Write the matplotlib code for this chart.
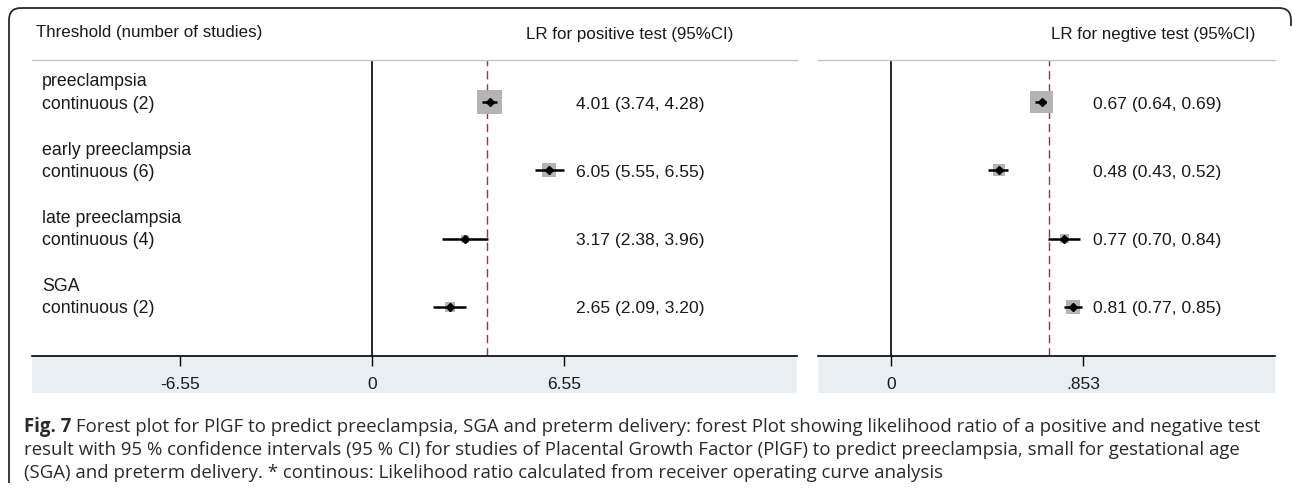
import numpy as np
import matplotlib
matplotlib.use("Agg")
import matplotlib.pyplot as plt
from matplotlib import transforms
from matplotlib.patches import Rectangle, PathPatch
from matplotlib.path import Path

# --- data ---
OUTCOMES = ["preeclampsia", "early preeclampsia", "late preeclampsia", "SGA"]
N_STUDIES = [2, 6, 4, 2]

LR_POS = [4.01, 6.05, 3.17, 2.65]
LR_POS_LO = [3.74, 5.55, 2.38, 2.09]
LR_POS_HI = [4.28, 6.55, 3.96, 3.20]
WEIGHT_POS = [61.5, 20.9, 6.8, 10.7]      # relative weight, %
POOLED_POS = 3.92

LR_NEG = [0.67, 0.48, 0.77, 0.81]
LR_NEG_LO = [0.64, 0.43, 0.70, 0.77]
LR_NEG_HI = [0.69, 0.52, 0.84, 0.85]
WEIGHT_NEG = [54.2, 16.0, 8.3, 21.5]
POOLED_NEG = 0.702

POS_TICKS = [-6.55, 0, 6.55]
POS_TICKLABELS = ["-6.55", "0", "6.55"]
NEG_TICKS = [0, 0.853]
NEG_TICKLABELS = ["0", ".853"]

CAPTION_BOLD = "Fig. 7"
CAPTION = [
    " Forest plot for PlGF to predict preeclampsia, SGA and preterm delivery: forest Plot "
    "showing likelihood ratio of a positive and negative test",
    "result with 95 % confidence intervals (95 % CI) for studies of Placental Growth Factor "
    "(PlGF) to predict preeclampsia, small for gestational age",
    "(SGA) and preterm delivery. * continous: Likelihood ratio calculated from receiver "
    "operating curve analysis",
]

# --- layout (pixels, origin top-left) ---
W, H = 1292, 494
DPI = 100
TOP, BOTTOM = 60, 356          # header rule / x axis
BAND_BOTTOM = 393
ROW0, ROW_STEP = 102, 68.3
BOX_PX = 3.1                   # px of box side per sqrt(weight %)

TEXT = "#1a1a1a"
BOX = "#b4b4b4"
BAND = "#e8eef2"
RULE = "#c4c4c4"
REF = "#8a3c48"

plt.rcParams["font.family"] = ["Liberation Sans", "DejaVu Sans"]

fig = plt.figure(figsize=(W / DPI, H / DPI), dpi=DPI)
px = transforms.Affine2D().scale(1 / W, -1 / H).translate(0, 1) + fig.transFigure


def add_panel(x0, x1, zero_px, px_per_unit):
    ax = fig.add_axes([x0 / W, (H - BOTTOM) / H, (x1 - x0) / W, (BOTTOM - TOP) / H])
    ax.set_xlim((x0 - zero_px) / px_per_unit, (x1 - zero_px) / px_per_unit)
    ax.set_ylim((BOTTOM - ROW0) / ROW_STEP, (TOP - ROW0) / ROW_STEP)
    ax.set_yticks([])
    for s in ("left", "right"):
        ax.spines[s].set_visible(False)
    ax.spines["top"].set_color(RULE)
    ax.spines["top"].set_linewidth(1.0)
    ax.spines["bottom"].set_color("black")
    ax.spines["bottom"].set_linewidth(1.2)
    ax.tick_params(axis="x", direction="out", length=7, width=1.0, pad=8,
                   labelsize=12.5, colors="black", labelcolor=TEXT)
    fig.patches.append(Rectangle((x0, BOTTOM), x1 - x0, BAND_BOTTOM - BOTTOM,
                                 transform=px, facecolor=BAND, edgecolor="none",
                                 zorder=-5))
    ax.axvline(0, color="black", lw=1.2, zorder=1)
    return ax


def draw_rows(ax, est, lo, hi, weight, pooled, text_px, zero_px, px_per_unit):
    rows = np.arange(len(est))
    ax.axvline(pooled, color=REF, lw=1.0, dashes=(6, 3.5), zorder=1)
    sizes = (BOX_PX * np.sqrt(weight) * 72 / DPI) ** 2
    ax.scatter(est, rows, s=sizes, marker="s", color=BOX, linewidths=0, zorder=2)
    ax.hlines(rows, lo, hi, color="black", lw=1.8, zorder=3)
    ax.plot(est, rows, ls="none", marker="D", ms=3.6, color="black", zorder=4)
    tx = (text_px - zero_px) / px_per_unit
    for r, e, l, h in zip(rows, est, lo, hi):
        ax.text(tx, r + 0.03, f"{e:.2f} ({l:.2f}, {h:.2f})", ha="left", va="center",
                fontsize=12.6, color=TEXT)


# LR for positive test
ax_pos = add_panel(32, 797, 372, 29.31)
draw_rows(ax_pos, LR_POS, LR_POS_LO, LR_POS_HI, WEIGHT_POS, POOLED_POS, 576, 372, 29.31)
ax_pos.set_xticks(POS_TICKS, POS_TICKLABELS)
for i, (name, n) in enumerate(zip(OUTCOMES, N_STUDIES)):
    ax_pos.text(42, ROW0 + i * ROW_STEP - 20, name, transform=px, ha="left",
                va="center", fontsize=12.8, color=TEXT)
    ax_pos.text(42, ROW0 + i * ROW_STEP + 2, f"continuous ({n})", transform=px,
                ha="left", va="center", fontsize=12.8, color=TEXT)

# LR for negative test
ax_neg = add_panel(818, 1275, 890.7, 225.4)
draw_rows(ax_neg, LR_NEG, LR_NEG_LO, LR_NEG_HI, WEIGHT_NEG, POOLED_NEG, 1093, 890.7, 225.4)
ax_neg.set_xticks(NEG_TICKS, NEG_TICKLABELS)

# column headers
fig.text(36 / W, 1 - 33 / H, "Threshold (number of studies)", ha="left", va="center",
         fontsize=12.2, color=TEXT)
fig.text(630 / W, 1 - 34 / H, "LR for positive test (95%CI)", ha="center", va="center",
         fontsize=12.2, color=TEXT)
fig.text(1153 / W, 1 - 34 / H, "LR for negtive test (95%CI)", ha="center", va="center",
         fontsize=12.2, color=TEXT)

# rounded frame: left side and top, right side cut at the corner
r = 12
verts = [(9, 483), (9, 8 + r), (9, 8), (9 + r, 8), (1291 - r, 8), (1291, 8),
         (1291, 8 + r), (1291, 8 + r + 6)]
codes = [Path.MOVETO, Path.LINETO, Path.CURVE3, Path.CURVE3, Path.LINETO,
         Path.CURVE3, Path.CURVE3, Path.LINETO]
fig.patches.append(PathPatch(Path(verts, codes), transform=px, facecolor="none",
                             edgecolor="#2b2b2b", lw=1.3))

# caption
cap_kw = dict(transform=px, ha="left", va="center", fontsize=13.4, color="#2a2a2a",
              family=["Open Sans", "DejaVu Sans"])
bold = fig.text(24, 427, CAPTION_BOLD, fontweight="bold", **cap_kw)
fig.canvas.draw()
bb = bold.get_window_extent()
fig.text(24 + bb.width, 427, CAPTION[0], **cap_kw)
fig.text(24, 450, CAPTION[1], **cap_kw)
fig.text(24, 473, CAPTION[2], **cap_kw)

fig.savefig("out.png", dpi=DPI)
